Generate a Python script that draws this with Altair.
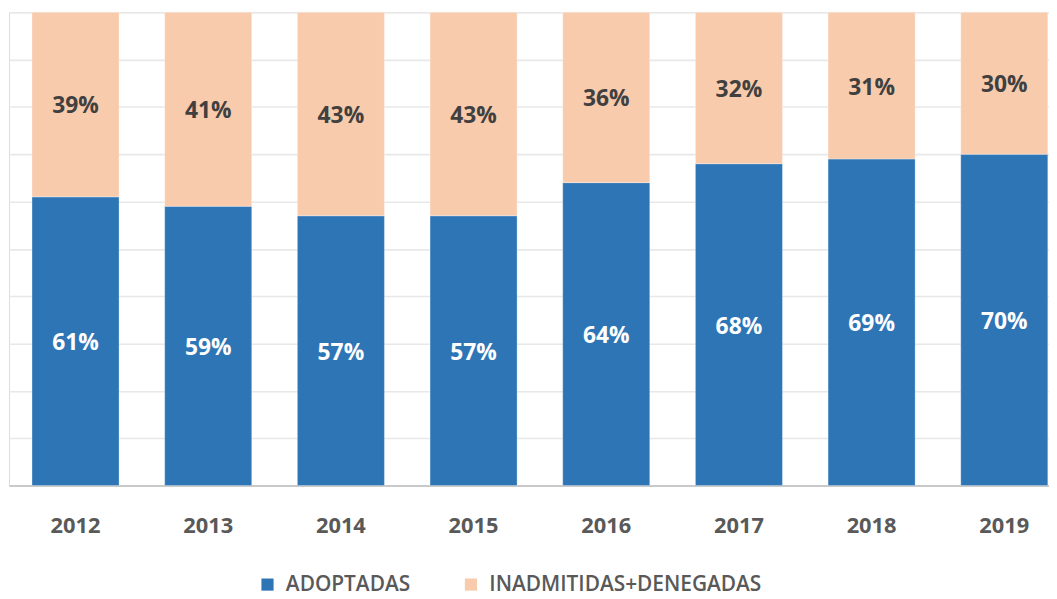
import altair as alt
import pandas as pd

years = ["2012", "2013", "2014", "2015", "2016", "2017", "2018", "2019"]
adoptadas = [61, 59, 57, 57, 64, 68, 69, 70]
inadmitidas = [39, 41, 43, 43, 36, 32, 31, 30]
series = ["ADOPTADAS", "INADMITIDAS+DENEGADAS"]
colors = ["#2E75B6", "#F8CBAD"]
text_colors = ["#FFFFFF", "#404040"]

rows = []
for i, y in enumerate(years):
    rows.append({"year": y, "serie": series[0], "value": adoptadas[i], "ord": 0})
    rows.append({"year": y, "serie": series[1], "value": inadmitidas[i], "ord": 1})
df = pd.DataFrame(rows)

FONT = "Open Sans"

base = alt.Chart(df).transform_stack(
    stack="value", groupby=["year"], as_=["v0", "v1"], sort=[alt.SortField("ord", order="ascending")]
).transform_calculate(
    mid="(datum.v0 + datum.v1) / 2",
    label="datum.value + '%'"
)

x_enc = alt.X(
    "year:N",
    sort=years,
    scale=alt.Scale(range=[0, 1070], paddingInner=0.344, paddingOuter=0.1735),
    axis=alt.Axis(
        title=None, labelFont=FONT, labelFontSize=22, labelFontWeight="bold",
        labelColor="#595959", labelPadding=40, labelBaseline="middle",
        ticks=False, domainColor="#C9C9C9", domainWidth=2, labelAngle=0,
        grid=False,
    ),
)

bars = base.mark_bar(stroke="#FFFFFF", strokeWidth=0.6, strokeOpacity=0.5).encode(
    x=x_enc,
    y=alt.Y(
        "v0:Q",
        scale=alt.Scale(domain=[0, 100], nice=False, zero=True),
        axis=alt.Axis(
            title=None, labels=False, ticks=False, domain=False,
            values=[0, 10, 20, 30, 40, 50, 60, 70, 80, 90, 100],
            gridColor="#E8E8E8", gridWidth=1.6,
        ),
    ),
    y2="v1:Q",
    color=alt.Color(
        "serie:N",
        scale=alt.Scale(domain=series, range=colors),
        legend=alt.Legend(
            title=None, orient="none", legendX=250, legendY=566,
            direction="horizontal", symbolType="square", symbolSize=150,
            symbolStrokeWidth=0, labelFont=FONT, labelFontSize=21,
            labelFontWeight=600, labelColor="#595959", columnPadding=50,
            symbolOffset=0, labelOffset=8, labelLimit=0,
        ),
    ),
)

texts = base.mark_text(font=FONT, fontSize=23, fontWeight="bold", baseline="middle", dy=2).encode(
    x=alt.X("year:N", sort=years),
    y=alt.Y("mid:Q"),
    text="label:N",
    color=alt.Color("serie:N", scale=alt.Scale(domain=series, range=text_colors), legend=None),
)

chart = alt.layer(bars, texts).resolve_scale(color="independent").properties(
    width=1048,
    height=477,
    autosize=alt.AutoSizeParams(type="none"),
    padding={"left": 1, "top": 2, "right": 0, "bottom": 111},
).configure_view(stroke=None).configure(background="#FFFFFF")

chart.save("out.html", embed_options={"renderer": "svg", "actions": False})
